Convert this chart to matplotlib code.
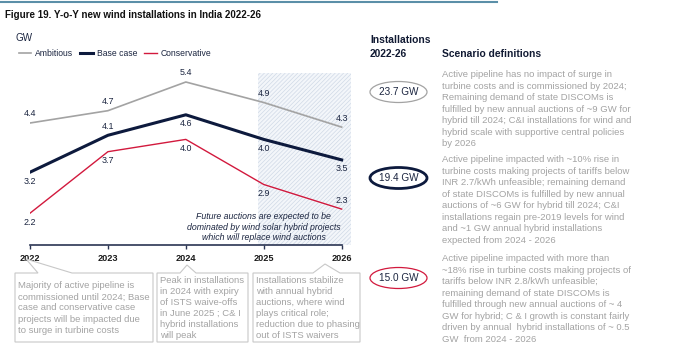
import matplotlib.pyplot as plt
from matplotlib.patches import Rectangle, Ellipse, Polygon
from matplotlib.lines import Line2D

years = [2022, 2023, 2024, 2025, 2026]
ambitious = [4.4, 4.7, 5.4, 4.9, 4.3]
base_case = [3.2, 4.1, 4.6, 4.0, 3.5]
conservative = [2.2, 3.7, 4.0, 2.9, 2.3]
series_names = ['Ambitious', 'Base case', 'Conservative']

# where each value label sits: +1 above the point, -1 below
amb_pos = [1, 1, 1, 1, 1]
base_pos = [-1, 1, -1, -1, -1]
cons_pos = [-1, -1, -1, -1, 1]

totals = ['23.7 GW', '19.4 GW', '15.0 GW']
definitions = [
    "Active pipeline has no impact of surge in\nturbine costs and is commissioned by 2024;\n"
    "Remaining demand of state DISCOMs is\nfulfilled by new annual auctions of ~9 GW for\n"
    "hybrid till 2024; C&I installations for wind and\nhybrid scale with supportive central policies\nby 2026",
    "Active pipeline impacted with ~10% rise in\nturbine costs making projects of tariffs below\n"
    "INR 2.7/kWh unfeasible; remaining demand\nof state DISCOMs is fulfilled by new annual\n"
    "auctions of ~6 GW for hybrid till 2024; C&I\ninstallations regain pre-2019 levels for wind\n"
    "and ~1 GW annual hybrid installations\nexpected from 2024 - 2026",
    "Active pipeline impacted with more than\n~18% rise in turbine costs making projects of\n"
    "tariffs below INR 2.8/kWh unfeasible;\nremaining demand of state DISCOMs is\n"
    "fulfilled through new annual auctions of ~ 4\nGW for hybrid; C & I growth is constant fairly\n"
    "driven by annual  hybrid installations of ~ 0.5\nGW  from 2024 - 2026",
]
notes = [
    "Majority of active pipeline is\ncommissioned until 2024; Base\ncase and conservative case\n"
    "projects will be impacted due\nto surge in turbine costs",
    "Peak in installations\nin 2024 with expiry\nof ISTS waive-offs\nin June 2025 ; C& I\n"
    "hybrid installations\nwill peak",
    "Installations stabilize\nwith annual hybrid\nauctions, where wind\nplays critical role;\n"
    "reduction due to phasing\nout of ISTS waivers",
]

plt.rcParams['font.family'] = ['Liberation Sans', 'DejaVu Sans']
plt.rcParams['hatch.linewidth'] = 0.5

W, H = 690, 352
navy = '#1b2540'
gray_line = '#a3a3a3'
red = '#d2193d'
txt_gray = '#a3a3a3'


def px(x, y):
    return (x / W, 1 - y / H)


fig = plt.figure(figsize=(6.9, 3.52), dpi=100)

# axes placed in pixel terms
left, right, top, bottom = 30, 351, 62, 245
ax = fig.add_axes([left / W, 1 - bottom / H, (right - left) / W, (bottom - top) / H])
ax.set_xlim(2022, 2026.12)
ax.set_ylim(1.424, 5.888)
ax.patch.set_alpha(0)

ax.add_patch(Rectangle((2024.92, 1.424), 1.2, 4.2, facecolor='#f3f6fa',
                       edgecolor='#d0d9e6', hatch='////////', lw=0, zorder=0))

ax.plot(years, ambitious, color=gray_line, lw=1.2, label=series_names[0])
ax.plot(years, base_case, color='#0d1a3d', lw=2.2, label=series_names[1])
ax.plot(years, conservative, color=red, lw=1.0, label=series_names[2])

for vals, pos in [(ambitious, amb_pos), (base_case, base_pos), (conservative, cons_pos)]:
    for x, v, p in zip(years, vals, pos):
        ax.annotate(f'{v:.1f}', (x, v), xytext=(0, 6.5 * p), textcoords='offset points',
                    ha='center', va='center', fontsize=6.4, color=navy)

ax.text(2025.0, 1.86, "Future auctions are expected to be\ndominated by wind solar hybrid projects\n"
        "which will replace wind auctions", ha='center', va='center', fontsize=6.3,
        style='italic', color=navy, linespacing=1.2)

for s in ['top', 'right', 'left']:
    ax.spines[s].set_visible(False)
ax.spines['bottom'].set_bounds(2022, 2026)
ax.spines['bottom'].set_color('#2b3553')
ax.spines['bottom'].set_linewidth(1.2)
ax.set_yticks([])
ax.set_xticks(years)
ax.set_xticklabels([str(y) for y in years], fontweight='bold')
ax.tick_params(axis='x', length=3, width=1, color='#2b3553', pad=3.5, labelsize=6.6,
               labelcolor='#1a1a1a')

fig.legend(loc='upper left', bbox_to_anchor=px(19, 49), ncol=3, frameon=False,
           fontsize=6.2, handlelength=1.45, handletextpad=0.45, columnspacing=0.8,
           borderpad=0, borderaxespad=0, labelcolor=navy)

# header
fig.add_artist(Line2D([0, 497 / W], [1 - 2 / H, 1 - 2 / H], color='#5b8fa8', lw=1.5))
fig.text(*px(5, 15), 'Figure 19. Y-o-Y new wind installations in India 2022-26',
         fontsize=7.0, fontweight='bold', va='center', ha='left', color='#111111')
fig.text(*px(15, 38), 'GW', fontsize=7.1, va='center', color=navy)

# callout boxes under the axis
boxes = [(15, 153, 26, 259, 38, 72), (157, 248, 187, 265, 180, 196), (253, 360, 325, 264, 313, 340)]
for (x0, x1, tx, ty, b0, b1), note in zip(boxes, notes):
    y0, y1 = 273, 342
    pts = [px(x0, y0), px(b0, y0), px(tx, ty), px(b1, y0), px(x1, y0), px(x1, y1), px(x0, y1)]
    fig.add_artist(Polygon(pts, closed=True, transform=fig.transFigure, facecolor='white',
                           edgecolor='#c8c8c8', lw=0.8))
    fig.text(*px(x0 + 3, 308), note, fontsize=6.8, color=txt_gray, va='center', ha='left',
             linespacing=1.3)

# right side panel
fig.text(*px(370, 47), 'Installations\n2022-26', fontsize=7.4, fontweight='bold',
         color='#111a33', va='center', linespacing=1.45)
fig.text(*px(442, 54), 'Scenario definitions', fontsize=7.4, fontweight='bold',
         color='#111a33', va='center')

ell_y = [92, 178, 278]
ell_col = ['#a3a3a3', '#0d1a3d', red]
ell_lw = [0.9, 2.0, 0.9]
def_y = [76, 161, 260]
for t, d, ey, ec, elw, dy in zip(totals, definitions, ell_y, ell_col, ell_lw, def_y):
    fig.add_artist(Ellipse(px(398.5, ey), 57 / W, 21 / H, transform=fig.transFigure,
                           facecolor='white', edgecolor=ec, lw=elw))
    fig.text(*px(398.5, ey), t, fontsize=7.2, color=navy, ha='center', va='center')
    fig.text(*px(442, dy - 6), d, fontsize=6.8, color=txt_gray, ha='left', va='top',
             linespacing=1.36)

fig.savefig('out.png', dpi=100)
